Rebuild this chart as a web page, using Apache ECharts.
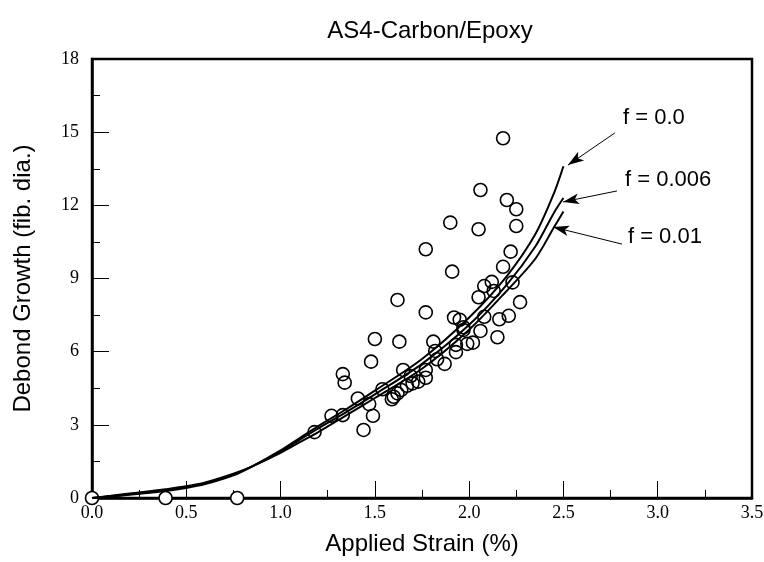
<!DOCTYPE html>
<html><head><meta charset="utf-8">
<script src="https://cdn.jsdelivr.net/npm/echarts@6/dist/echarts.min.js"></script>
<style>html,body{margin:0;padding:0;background:#fff}#c{width:764px;height:562px}</style>
</head><body><div id="c"></div>
<script>
// Measured data points (strain %, debond growth)
const measured = [
[0,0],[0.39,0],[0.77,0],
[1.18,2.7],[1.27,3.37],[1.33,3.4],[1.33,5.08],[1.34,4.73],[1.41,4.08],[1.44,2.79],[1.47,3.85],[1.49,3.37],[1.48,5.59],[1.50,6.52],[1.54,4.46],
[1.59,4.05],[1.60,4.15],[1.62,4.29],[1.64,4.43],[1.67,4.6],[1.69,5.0],[1.70,4.70],[1.73,4.77],[1.77,5.25],[1.77,4.93],
[1.63,6.41],[1.62,8.12],[1.65,5.25],
[1.77,7.61],[1.77,10.2],[1.81,6.41],[1.82,6.03],[1.83,5.69],[1.87,5.50],
[1.90,11.29],[1.91,9.28],[1.92,7.40],[1.95,7.31],[1.97,7.0],[1.97,6.89],[1.93,6.28],[1.93,5.98],[1.99,6.32],[2.02,6.37],
[2.05,11.02],[2.06,12.63],[2.05,8.23],[2.06,6.85],[2.08,7.43],[2.08,8.69],[2.12,8.86],[2.13,8.49],[2.15,6.59],[2.16,7.33],
[2.18,9.48],[2.18,14.75],[2.20,12.22],[2.21,7.47],[2.22,10.1],[2.23,8.84],[2.25,11.84],[2.25,11.15],[2.27,8.03]
];
// Model curves
const curveStrain = [0,0.1,0.25,0.4,0.5,0.6,0.75,0.85,1.0,1.1,1.2,1.35,1.5,1.75,2.0,2.2,2.35,2.45,2.5];
const f000 = [0,0.05,0.17,0.3,0.41,0.57,0.93,1.3,1.95,2.45,2.95,3.65,4.4,5.7,7.4,9.1,10.8,12.5,13.6];
const f006 = [0,0.07,0.2,0.33,0.44,0.6,0.96,1.3,1.9,2.38,2.85,3.53,4.25,5.5,7.1,8.75,10.3,11.7,12.3];
const f010 = [0,0.09,0.23,0.37,0.48,0.64,1.0,1.3,1.85,2.28,2.7,3.4,4.1,5.3,6.9,8.5,9.8,11.1,11.75];
const curveNames = ['f = 0.0','f = 0.006','f = 0.01'];
const xTicks = ['0.0','0.5','1.0','1.5','2.0','2.5','3.0','3.5'];

const zip = (xs, ys) => xs.map((x,i)=>[x,ys[i]]);
const sans = 'Liberation Sans, Arial, sans-serif';
const serif = 'Liberation Serif, Times New Roman, serif';

const annot = [
  {from:[2.773,14.97], to:[2.524,13.65], label:[2.816,15.58]},
  {from:[2.784,12.59], to:[2.498,12.14], label:[2.827,13.04]},
  {from:[2.811,10.41], to:[2.445,11.11], label:[2.842,10.70]}
];
const curves = [f000,f006,f010];

const series = [];
// white fills under circles
series.push({type:'scatter', data:measured, symbol:'circle', symbolSize:13, z:1,
  itemStyle:{color:'#fff', borderWidth:0, opacity:1}, silent:true});
curves.forEach((c,i)=>{
  series.push({type:'line', name:curveNames[i], data:zip(curveStrain,c), smooth:0.3, showSymbol:false, z:3,
    lineStyle:{color:'#000', width:2},
    markLine:{silent:true, symbol:['none','arrow'], symbolSize:[8,16], label:{show:false},
      lineStyle:{color:'#000', width:1, type:'solid'},
      data:[[{coord:annot[i].from},{coord:annot[i].to}]]},
    markPoint:{silent:true, symbol:'circle', symbolSize:0,
      data:[{coord:annot[i].label, value:curveNames[i]}],
      label:{show:true, position:'right', distance:0, formatter:curveNames[i], color:'#000', fontSize:22, fontFamily:sans}}
  });
});
series.push({type:'scatter', data:measured, symbol:'circle', symbolSize:13, z:4,
  itemStyle:{color:'rgba(255,255,255,0)', borderColor:'#000', borderWidth:1.6, opacity:1}});

const chart = echarts.init(document.getElementById('c'), null, {renderer:'canvas'});
chart.setOption({
  animation:false,
  title:{text:'AS4-Carbon/Epoxy', left:425, top:14, textAlign:'center',
    textStyle:{fontFamily:sans, fontSize:24, fontWeight:'normal', color:'#000'}},
  grid:{left:92, right:12, top:59, bottom:64, outerBoundsMode:'none', containLabel:false,
    show:true, borderColor:'#000', borderWidth:2.5, backgroundColor:'transparent'},
  xAxis:{type:'value', min:0, max:3.5, interval:0.5,
    name:'Applied Strain (%)', nameLocation:'middle', nameGap:34,
    nameTextStyle:{fontFamily:sans, fontSize:24, color:'#000'},
    axisLine:{show:true, lineStyle:{color:'#000', width:2.5}},
    axisTick:{show:true, inside:true, length:17, lineStyle:{color:'#000', width:1}},
    minorTick:{show:true, splitNumber:2, length:8, lineStyle:{color:'#000', width:1}},
    splitLine:{show:false},
    axisLabel:{margin:6, fontFamily:serif, fontSize:18, color:'#000', formatter:v=>xTicks[Math.round(v/0.5)]}},
  yAxis:{type:'value', min:0, max:18, interval:3,
    name:'Debond Growth (fib. dia.)', nameLocation:'middle', nameGap:57,
    nameTextStyle:{fontFamily:sans, fontSize:24, color:'#000'},
    axisLine:{show:true, lineStyle:{color:'#000', width:2.5}},
    axisTick:{show:true, inside:true, length:17, lineStyle:{color:'#000', width:1}},
    minorTick:{show:true, splitNumber:2, length:8, lineStyle:{color:'#000', width:1}},
    splitLine:{show:false},
    axisLabel:{margin:13, padding:[0,0,6,0], fontFamily:serif, fontSize:18, color:'#000'}},
  series:series
});
</script></body></html>
